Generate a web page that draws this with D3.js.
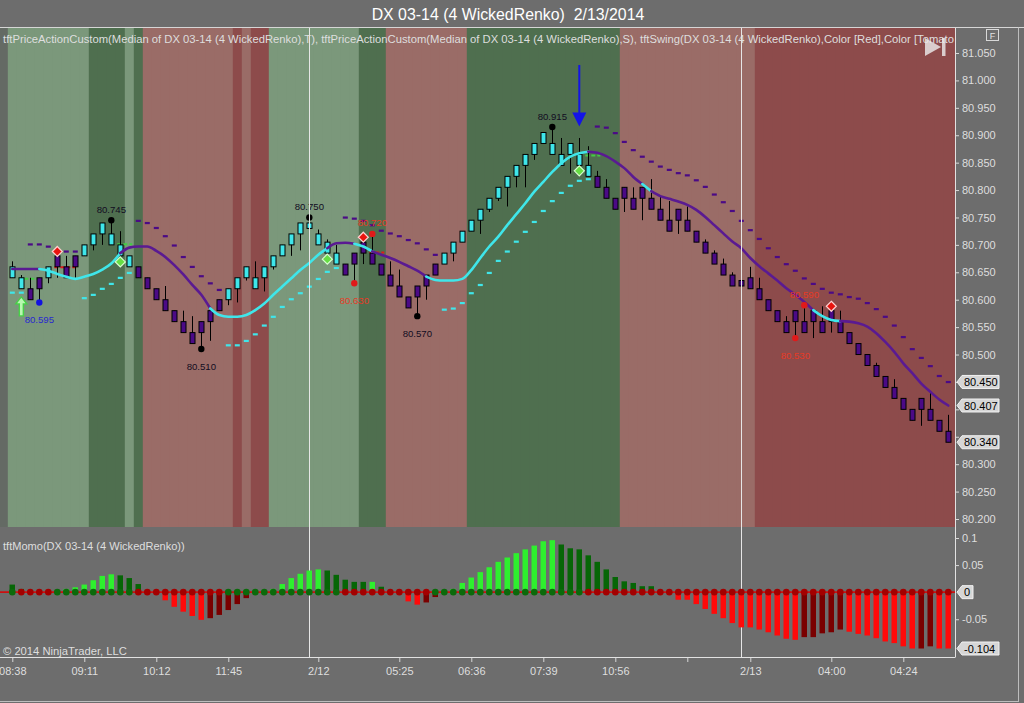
<!DOCTYPE html>
<html><head><meta charset="utf-8">
<script src="https://cdn.jsdelivr.net/npm/d3@7/dist/d3.min.js"></script>
<style>
html,body{margin:0;padding:0;background:#6d6d6d;}
svg{display:block;font-family:"Liberation Sans",Arial,sans-serif;}
</style></head><body>
<svg id="chart" width="1024" height="703"></svg>
<script>
// ---------------- DATA ----------------
const titleText = "DX 03-14 (4 WickedRenko)  2/13/2014";
const legendText = "tftPriceActionCustom(Median of DX 03-14 (4 WickedRenko),T), tftPriceActionCustom(Median of DX 03-14 (4 WickedRenko),S), tftSwing(DX 03-14 (4 WickedRenko),Color [Red],Color [Tomato";
const momoTitle = "tftMomo(DX 03-14 (4 WickedRenko))";
const copyright = "© 2014 NinjaTrader, LLC";

const bodyLow = [80.64,80.62,80.60,80.62,80.64,80.66,80.64,80.66,80.68,80.70,
 80.72,80.70,80.68,80.66,80.64,80.62,80.60,80.58,80.56,80.54,
 80.52,80.54,80.56,80.58,80.60,80.62,80.64,80.62,80.64,80.66,
 80.68,80.70,80.72,80.73,80.70,80.685,80.665,80.645,80.665,80.685,
 80.665,80.645,80.625,80.605,80.585,80.605,80.625,80.645,80.665,80.685,
 80.705,80.725,80.745,80.765,80.785,80.805,80.825,80.845,80.865,80.885,
 80.865,80.845,80.865,80.845,80.825,80.805,80.785,80.765,80.785,80.765,
 80.785,80.765,80.745,80.725,80.745,80.725,80.705,80.685,80.665,80.645,
 80.625,80.625,80.62,80.60,80.58,80.56,80.54,80.56,80.54,80.56,
 80.54,80.56,80.54,80.52,80.50,80.48,80.46,80.44,80.42,80.40,
 80.38,80.40,80.38,80.36,80.34];
const bodyHigh = [80.66,80.64,80.62,80.64,80.66,80.68,80.66,80.68,80.70,80.72,
 80.74,80.72,80.70,80.68,80.66,80.64,80.62,80.60,80.58,80.56,
 80.54,80.56,80.58,80.60,80.62,80.64,80.66,80.64,80.66,80.68,
 80.70,80.72,80.74,80.74,80.72,80.705,80.685,80.665,80.685,80.705,
 80.685,80.665,80.645,80.625,80.605,80.625,80.645,80.665,80.685,80.705,
 80.725,80.745,80.765,80.785,80.805,80.825,80.845,80.865,80.885,80.905,
 80.885,80.865,80.885,80.865,80.845,80.825,80.805,80.785,80.805,80.785,
 80.805,80.785,80.765,80.745,80.765,80.745,80.725,80.705,80.685,80.665,
 80.645,80.635,80.64,80.62,80.60,80.58,80.56,80.58,80.56,80.58,
 80.56,80.58,80.56,80.54,80.52,80.50,80.48,80.46,80.44,80.42,
 80.40,80.42,80.40,80.38,80.36];
const high = [80.67,80.645,80.64,80.64,80.66,80.68,80.68,80.68,80.70,80.72,
 80.74,80.745,80.725,80.68,80.66,80.64,80.62,80.625,80.58,80.58,
 80.57,80.56,80.58,80.60,80.62,80.64,80.66,80.67,80.66,80.68,
 80.70,80.72,80.74,80.75,80.728,80.71,80.70,80.665,80.685,80.705,
 80.72,80.665,80.67,80.655,80.605,80.625,80.645,80.665,80.685,80.705,
 80.725,80.745,80.765,80.785,80.805,80.825,80.845,80.865,80.885,80.905,
 80.915,80.895,80.885,80.895,80.88,80.835,80.82,80.785,80.805,80.805,
 80.805,80.82,80.79,80.78,80.765,80.77,80.725,80.71,80.69,80.675,
 80.65,80.645,80.66,80.64,80.60,80.58,80.57,80.58,80.59,80.58,
 80.588,80.58,80.58,80.54,80.52,80.50,80.485,80.46,80.455,80.42,
 80.40,80.42,80.43,80.38,80.39];
const low = [80.64,80.62,80.60,80.595,80.63,80.64,80.64,80.64,80.68,80.69,
 80.70,80.70,80.68,80.66,80.64,80.62,80.60,80.58,80.56,80.54,
 80.52,80.51,80.525,80.58,80.59,80.595,80.635,80.62,80.615,80.655,
 80.68,80.68,80.69,80.71,80.70,80.685,80.665,80.645,80.63,80.665,
 80.665,80.645,80.625,80.605,80.585,80.57,80.60,80.645,80.665,80.67,
 80.705,80.725,80.72,80.76,80.78,80.77,80.805,80.805,80.855,80.885,
 80.865,80.845,80.83,80.845,80.825,80.805,80.785,80.765,80.76,80.765,
 80.745,80.765,80.745,80.725,80.72,80.725,80.705,80.685,80.665,80.645,
 80.625,80.615,80.62,80.60,80.58,80.56,80.54,80.53,80.54,80.53,
 80.54,80.54,80.54,80.52,80.50,80.48,80.46,80.44,80.42,80.40,
 80.38,80.37,80.38,80.36,80.34];
// 1 = cyan painted bar, 0 = purple painted bar
const barTrend = [1,1,0,0,1,0,0,0,1,1, 1,1,1,1,0,0,0,0,0,0, 0,0,0,0,1,1,1,1,1,1,
 1,1,1,1,1,1,1,0,0,0, 0,0,0,0,0,0,0,0,1,1, 1,1,1,1,1,1,1,1,1,1, 1,1,1,1,1,0,0,0,0,0,
 0,0,0,0,0,0,0,0,0,0, 0,0,0,0,0,0,0,0,0,0, 0,0,0,0,0,0,0,0,0,0, 0,0,0,0,0];

// smoothed median line and its colour state (1 cyan, 0 purple)
const maValues = [80.656,80.656,80.656,80.656,80.653,80.647,80.642,80.638,80.642,80.647,
 80.655,80.666,80.685,80.695,80.697,80.697,80.689,80.678,80.663,80.646,
 80.627,80.609,80.584,80.572,80.569,80.569,80.572,80.581,80.593,80.609,
 80.624,80.639,80.654,80.667,80.682,80.694,80.703,80.704,80.702,80.697,
 80.688,80.682,80.676,80.669,80.661,80.653,80.642,80.636,80.635,80.635,
 80.638,80.654,80.676,80.697,80.715,80.736,80.756,80.776,80.797,80.815,
 80.833,80.849,80.861,80.867,80.870,80.868,80.862,80.852,80.840,80.824,
 80.811,80.798,80.789,80.784,80.779,80.773,80.764,80.751,80.736,80.721,
 80.706,80.694,80.676,80.661,80.648,80.635,80.621,80.609,80.596,80.581,
 80.570,80.563,80.561,80.560,80.557,80.551,80.539,80.523,80.505,80.484,
 80.466,80.447,80.432,80.418,80.407];
const maTrend = [0,0,0,0,1,1,1,1,1,1, 1,1,1,0,0,0,0,0,0,0, 0,0,0,1,1,1,1,1,1,1,
 1,1,1,1,1,1,0,0,0,1, 1,0,0,0,0,0,0,1,1,1, 1,1,1,1,1,1,1,1,1,1, 1,1,1,1,1,0,0,0,0,0,
 0,1,0,0,0,0,0,0,0,0, 0,0,0,0,0,0,0,0,0,0, 1,1,1,0,0,0,0,0,0,0, 0,0,0,0,0];

// trailing stop dashes (1 = cyan support, 0 = purple resistance)
const stopValues = [80.613,80.613,80.701,80.701,80.697,80.688,80.688,80.688,80.603,80.609,
 80.620,80.629,80.640,80.649,80.744,80.740,80.731,80.716,80.699,80.678,
 80.660,80.643,80.630,80.618,80.517,80.517,80.525,80.537,80.553,80.569,
 80.587,80.601,80.612,80.624,80.638,80.651,80.658,80.750,80.748,80.744,
 80.736,80.726,80.721,80.716,80.709,80.703,80.692,80.682,80.582,80.584,
 80.594,80.612,80.627,80.649,80.671,80.688,80.706,80.724,80.742,80.762,
 80.780,80.795,80.808,80.817,80.820,80.916,80.914,80.904,80.888,80.873,
 80.861,80.852,80.843,80.837,80.831,80.827,80.818,80.806,80.792,80.778,
 80.762,80.744,80.727,80.711,80.694,80.678,80.665,80.653,80.639,80.629,
 80.620,80.613,80.610,80.605,80.602,80.594,80.583,80.569,80.553,80.532,
 80.510,80.494,80.479,80.461,80.450];
const stopTrend = [1,1,0,0,0,0,0,0,1,1, 1,1,1,1,0,0,0,0,0,0, 0,0,0,0,1,1,1,1,1,1,
 1,1,1,1,1,1,1,0,0,0, 0,0,0,0,0,0,0,0,1,1, 1,1,1,1,1,1,1,1,1,1, 1,1,1,1,1,0,0,0,0,0,
 0,0,0,0,0,0,0,0,0,0, 0,0,0,0,0,0,0,0,0,0, 0,0,0,0,0,0,0,0,0,0, 0,0,0,0,0];

// background state per bar
const bandState = ["lg","lg","lg","lg","lg","lg","lg","lg","lg","dg",
 "dg","dg","dg","lg","dg","lr","lr","lr","lr","lr",
 "lr","lr","lr","lr","lr","dr","lr","dr","dr","lg",
 "lg","lg","lg","lg","lg","lg","lg","lg","lg","dg",
 "dg","dg","lr","lr","lr","lr","lr","lr","lr","lr",
 "lr","dg","dg","dg","dg","dg","dg","dg","dg","dg",
 "dg","dg","dg","dg","dg","dg","dg","dg","lr","lr",
 "lr","lr","lr","lr","lr","lr","lr","lr","lr","lr",
 "lr","lr","lr","dr","dr","dr","dr","dr","dr","dr",
 "dr","dr","dr","dr","dr","dr","dr","dr","dr","dr",
 "dr","dr","dr","dr","dr"];

// swing points
const swingIdx   = [3, 11, 21, 33, 38, 40, 45, 60, 87, 88];
const swingPrice = [80.595, 80.745, 80.510, 80.750, 80.630, 80.720, 80.570, 80.915, 80.530, 80.590];
const swingSide  = ["low","high","low","high","low","high","low","high","low","high"];
const swingKind  = ["blue","black","black","black","red","red","black","black","red","red"];

// diamonds
const redDiamondIdx = [5, 39, 91];
const redDiamondPrice = [80.688, 80.714, 80.588];
const greenDiamondIdx = [12, 35, 63];
const greenDiamondPrice = [80.669, 80.674, 80.835];

// arrows
const upArrowIdx = 1, upArrowPrice = 80.605;
const downArrowIdx = 63, downArrowPrice = 80.916;

// short level marks
const levelStart = [1, 5, 12, 40, 64];
const levelEnd   = [3, 7, 13, 41, 65];
const levelPrice = [80.638, 80.659, 80.701, 80.686, 80.863];
const levelKind  = ["g","r","g","r","g"];

// momentum
const momoValues = [0.014,0.006,0,0,0,0,0.006,0.009,0.014,0.022,
 0.030,0.033,0.031,0.026,0.015,0,0,-0.015,-0.027,-0.036,
 -0.044,-0.051,-0.048,-0.042,-0.033,-0.022,-0.011,0,0,0.006,
 0.015,0.026,0.034,0.040,0.042,0.040,0.032,0.023,0.019,0.019,
 0.019,0.010,0,0,-0.017,-0.023,-0.019,-0.009,0,0.006,
 0.017,0.027,0.037,0.046,0.056,0.064,0.072,0.079,0.086,0.094,
 0.096,0.088,0.081,0.079,0.068,0.056,0.042,0.028,0.020,0.017,
 0.011,0.011,0,0,-0.014,-0.014,-0.022,-0.031,-0.040,-0.048,
 -0.057,-0.065,-0.065,-0.069,-0.074,-0.080,-0.086,-0.088,-0.083,-0.083,
 -0.076,-0.074,-0.069,-0.073,-0.077,-0.080,-0.085,-0.091,-0.094,-0.100,
 -0.104,-0.104,-0.100,-0.104,-0.104];
const momoBright = [0,0,0,0,0,0,1,1,1,1, 1,1,0,0,0,0,0,1,1,1, 1,1,0,0,0,0,0,0,0,1,
 1,1,1,1,1,0,0,0,0,0, 1,0,0,0,1,1,0,0,0,1, 1,1,1,1,1,1,1,1,1,1, 1,0,0,0,0,0,0,0,0,0,
 0,0,0,0,1,1,1,1,1,1, 1,1,1,1,1,1,1,1,0,0, 0,0,0,1,1,1,1,1,1,1, 1,0,0,1,1];
const dotTrend = [1,0,0,0,0,1,1,1,1,1, 1,1,1,1,0,0,0,0,0,0, 0,0,0,0,1,1,1,1,1,1,
 1,1,1,1,1,1,1,0,0,0, 0,0,0,0,0,0,0,1,1,1, 1,1,1,1,1,1,1,1,1,1, 1,1,1,1,0,0,0,0,0,0,
 0,0,0,0,0,0,0,0,0,0, 0,0,0,0,0,0,0,0,0,0, 0,0,0,0,0,0,0,0,0,0, 0,0,0,0,0];

// axes (80.400 and 80.350 sit under the value tags, so they are not labelled)
const priceTicks = d3.range(0, 18).map(k => +(80.2 + 0.05 * k).toFixed(3));
const hiddenPriceLabels = [80.4, 80.35];
const momoTicks = [0.1, 0.05, -0.05];
const timeTickIdx = [0, 8, 16, 24, 34, 43, 51, 59, 67, 75, 82, 91, 99];
const timeTickLabel = ["08:38","09:11","10:12","11:45","2/12","05:25","06:36","07:39","10:56","","2/13","04:00","04:24"];
const sessionBreaks = [33, 81];
const lastPrice = 80.340, lastMa = 80.407, lastStop = 80.450, lastMomo = -0.104;

// ---------------- DRAW ----------------
const N = bodyLow.length;
const svg = d3.select("#chart");
const plotR = 955, mainTop = 28, mainBot = 527, momoBot = 657;
const x = d3.scaleBand().domain(d3.range(N)).range([7.8, 952.8]);
const cx = i => x(i) + x.bandwidth() / 2;
const xLin = d3.scaleLinear().domain([0, N - 1]).range([cx(0), cx(N - 1)]);
const y = d3.scaleLinear().domain([80.2, 81.05]).range([519, 53]);
const ym = d3.scaleLinear().domain([-0.104, 0.1]).range([648.5, 538]);

const C = {
  bg: "#6d6d6d", lg: "#7b987b", dg: "#4f6f4f", lr: "#9a6c67", dr: "#8d4b4b",
  cyan: "#3fe6ea", purple: "#4b0a86", maPurple: "#5a1a92", text: "#dedede",
  gBright: "#2ef02e", gDark: "#066606", rBright: "#ff0a0a", rDark: "#7a0000",
  dotG: "#0b6a0b", dotR: "#a30000"
};

svg.append("rect").attr("width", 1024).attr("height", 703).attr("fill", C.bg);

const defs = svg.append("defs");
defs.append("clipPath").attr("id", "mainClip").append("rect")
  .attr("x", 0).attr("y", mainTop).attr("width", plotR).attr("height", mainBot - mainTop);
defs.append("clipPath").attr("id", "momoClip").append("rect")
  .attr("x", 0).attr("y", mainBot).attr("width", plotR).attr("height", momoBot - mainBot);

// title
const title = svg.append("text").attr("x", 508).attr("y", 19.5).attr("text-anchor", "middle")
  .attr("font-size", 16).attr("fill", "#ffffff").style("white-space", "pre").text(titleText);
(function () { const w = title.node().getComputedTextLength(); title.attr("font-size", 16 * 273 / w); })();

// frame lines
svg.append("line").attr("x1", 0).attr("x2", 1024).attr("y1", 27.5).attr("y2", 27.5).attr("stroke", "#d6d6d6");
svg.append("line").attr("x1", 1018.5).attr("x2", 1018.5).attr("y1", 27.5).attr("y2", 701.5).attr("stroke", "#bdbdbd");
svg.append("line").attr("x1", 0).attr("x2", 1019).attr("y1", 701.5).attr("y2", 701.5).attr("stroke", "#bdbdbd");
const fBox = svg.append("g");
fBox.append("rect").attr("x", 986.5).attr("y", 29.5).attr("width", 12).attr("height", 11).attr("fill", "none").attr("stroke", "#d8d8d8");
fBox.append("text").attr("x", 992.5).attr("y", 38.5).attr("text-anchor", "middle").attr("font-size", 9).attr("fill", "#e0e0e0").text("F");

// ---------- main panel ----------
const main = svg.append("g").attr("clip-path", "url(#mainClip)");
main.append("rect").attr("x", 0).attr("y", mainTop).attr("width", plotR).attr("height", mainBot - mainTop).attr("fill", "#646a64");
main.selectAll("rect.band").data(d3.range(N)).join("rect").attr("class", "band")
  .attr("x", i => x(i)).attr("y", mainTop)
  .attr("width", i => i === N - 1 ? plotR - x(i) : x.bandwidth() + 0.4)
  .attr("height", mainBot - mainTop).attr("fill", i => C[bandState[i]]);

// session separators (both panels)
svg.selectAll("line.sess").data(sessionBreaks).join("line").attr("class", "sess")
  .attr("x1", i => Math.round(cx(i)) + 0.5).attr("x2", i => Math.round(cx(i)) + 0.5)
  .attr("y1", mainTop).attr("y2", momoBot).attr("stroke", "#e6e6e6").attr("stroke-width", 1);

// legend text (runs under the axis, like the reference)
const leg = main.append("text").attr("x", 3).attr("y", 43).attr("font-size", 11).attr("fill", C.text).text(legendText);
(function () { const w = leg.node().getComputedTextLength(); leg.attr("font-size", 11 * 951 / w); })();

// level marks
main.selectAll("line.lvl").data(levelStart.map((s, k) => k)).join("line").attr("class", "lvl")
  .attr("x1", k => cx(levelStart[k]) - 3).attr("x2", k => cx(levelEnd[k]) + 3)
  .attr("y1", k => y(levelPrice[k])).attr("y2", k => y(levelPrice[k]))
  .attr("stroke", k => levelKind[k] === "g" ? "#44cc44" : "#e01a1a").attr("stroke-width", 2)
  .attr("stroke-dasharray", "4,2");

// stop dashes
main.selectAll("rect.stop").data(d3.range(N)).join("rect").attr("class", "stop")
  .attr("x", i => cx(i) - 2.5).attr("y", i => y(stopValues[i]) - 1)
  .attr("width", 5).attr("height", 2.2)
  .attr("fill", i => stopTrend[i] ? C.cyan : C.purple);

// candles
const cg = main.append("g");
cg.selectAll("line.wick").data(d3.range(N)).join("line").attr("class", "wick")
  .attr("x1", i => Math.round(cx(i)) + 0.5).attr("x2", i => Math.round(cx(i)) + 0.5)
  .attr("y1", i => y(high[i])).attr("y2", i => y(low[i]))
  .attr("stroke", "#000").attr("stroke-width", 1);
cg.selectAll("rect.body").data(d3.range(N)).join("rect").attr("class", "body")
  .attr("x", i => Math.round(cx(i)) - 2).attr("y", i => y(bodyHigh[i]))
  .attr("width", 5).attr("height", i => y(bodyLow[i]) - y(bodyHigh[i]))
  .attr("fill", i => barTrend[i] ? C.cyan : C.purple)
  .attr("stroke", "#000").attr("stroke-width", 1);

// MA line in coloured runs
(function () {
  const line = d3.line().x(i => cx(i)).y(i => y(maValues[i])).curve(d3.curveMonotoneX);
  let runs = [], cur = null;
  for (let i = 1; i < N; i++) {
    const c = maTrend[i];
    if (!cur || cur.c !== c) { cur = { c, pts: [i - 1] }; runs.push(cur); }
    cur.pts.push(i);
  }
  main.selectAll("path.ma").data(runs).join("path").attr("class", "ma")
    .attr("d", r => line(r.pts)).attr("fill", "none")
    .attr("stroke", r => r.c ? C.cyan : C.maPurple).attr("stroke-width", 2.6)
    .attr("stroke-linecap", "round");
})();

// diamonds
function diamond(g, px, py, fill, stroke) {
  const s = 5;
  g.append("path").attr("d", `M${px},${py - s} L${px + s},${py} L${px},${py + s} L${px - s},${py} Z`)
    .attr("fill", fill).attr("stroke", stroke).attr("stroke-width", 1.2);
}
redDiamondIdx.forEach((idx, k) => diamond(main, cx(idx), y(redDiamondPrice[k]), "#e8140f", "#ffd0d0"));
greenDiamondIdx.forEach((idx, k) => diamond(main, cx(idx), y(greenDiamondPrice[k]), "#66dd44", "#d8ffd0"));

// swing dots and labels
const swingDot = { blue: "#1212e0", black: "#000000", red: "#e01a1a" };
const swingTxt = { blue: "#2828d0", black: "#120c22", red: "#e63a26" };
swingIdx.forEach((idx, k) => {
  const px = cx(idx), py = y(swingPrice[k]);
  main.append("circle").attr("cx", px).attr("cy", py).attr("r", 3.2).attr("fill", swingDot[swingKind[k]]);
  main.append("text").attr("x", px).attr("y", swingSide[k] === "high" ? py - 7.5 : py + 20.5)
    .attr("text-anchor", "middle").attr("font-size", 9.6).attr("fill", swingTxt[swingKind[k]])
    .text(swingPrice[k].toFixed(3));
});

// arrows
(function () {
  const px = cx(upArrowIdx), t = y(upArrowPrice);
  main.append("path").attr("d", `M${px},${t} L${px + 5.5},${t + 7} L${px + 2},${t + 7} L${px + 2},${t + 19} L${px - 2},${t + 19} L${px - 2},${t + 7} L${px - 5.5},${t + 7} Z`)
    .attr("fill", "#b8f8b0").attr("stroke", "#44d244").attr("stroke-width", 1.3);
  const dx = cx(downArrowIdx), b = y(downArrowPrice);
  main.append("line").attr("x1", dx).attr("x2", dx).attr("y1", 65).attr("y2", b - 12).attr("stroke", "#1414e6").attr("stroke-width", 2);
  main.append("path").attr("d", `M${dx - 7},${b - 14} L${dx + 7},${b - 14} L${dx},${b} Z`).attr("fill", "#1414e6");
})();

// play icon (translucent)
svg.append("path").attr("d", "M925,38 L925,56 L941,47 Z").attr("fill", "#eeeeee").attr("fill-opacity", 0.8);
svg.append("rect").attr("x", 942).attr("y", 38).attr("width", 3.5).attr("height", 18).attr("fill", "#eeeeee").attr("fill-opacity", 0.8);

// right price axis
const axR = svg.append("g").attr("transform", `translate(${plotR},0)`)
  .call(d3.axisRight(y).tickValues(priceTicks)
    .tickFormat(d => hiddenPriceLabels.some(h => Math.abs(h - d) < 1e-6) ? "" : d3.format(".3f")(d))
    .tickSize(4).tickPadding(3));
axR.select(".domain").remove();
axR.selectAll("line").attr("stroke", "#d8d8d8");
axR.selectAll("text").attr("fill", C.text).attr("font-size", 11).attr("font-family", "Liberation Sans, Arial, sans-serif");
svg.append("line").attr("x1", plotR + 0.5).attr("x2", plotR + 0.5).attr("y1", mainTop).attr("y2", momoBot).attr("stroke", "#e2e2e2");

function tagBox(yv, label, w) {
  const x0 = 957, h = 13;
  svg.append("path").attr("d", `M${x0},${yv} L${x0 + 5},${yv - h / 2} H${x0 + 5 + w} V${yv + h / 2} H${x0 + 5} Z`)
    .attr("fill", "#d6d6d6").attr("stroke", "#f2f2f2").attr("stroke-width", 1);
  svg.append("text").attr("x", x0 + 7).attr("y", yv + 4).attr("font-size", 11).attr("fill", "#000").text(label);
}
tagBox(y(lastStop), d3.format(".3f")(lastStop), 37);
tagBox(y(lastMa), d3.format(".3f")(lastMa), 37);
tagBox(y(lastPrice), d3.format(".3f")(lastPrice), 37);

// ---------- momentum panel ----------
const mom = svg.append("g").attr("clip-path", "url(#momoClip)");
mom.append("text").attr("x", 3).attr("y", 550).attr("font-size", 11).attr("fill", C.text).text(momoTitle)
  .each(function () { const w = this.getComputedTextLength(); d3.select(this).attr("font-size", 11 * 182 / w); });
mom.append("text").attr("x", 3).attr("y", 654.5).attr("font-size", 11).attr("fill", C.text).text(copyright)
  .each(function () { const w = this.getComputedTextLength(); d3.select(this).attr("font-size", 11 * 124 / w); });

mom.selectAll("rect.mb").data(d3.range(N).filter(i => momoValues[i] !== 0)).join("rect").attr("class", "mb")
  .attr("x", i => Math.round(cx(i)) - 2.5).attr("width", 5.5)
  .attr("y", i => Math.min(ym(0), ym(momoValues[i])))
  .attr("height", i => Math.abs(ym(momoValues[i]) - ym(0)))
  .attr("fill", i => momoValues[i] > 0 ? (momoBright[i] ? C.gBright : C.gDark) : (momoBright[i] ? C.rBright : C.rDark));
mom.append("line").attr("x1", 0).attr("x2", plotR).attr("y1", ym(0)).attr("y2", ym(0))
  .attr("stroke", "#cc1010").attr("stroke-width", 1.6);
mom.selectAll("circle.dot").data(d3.range(N)).join("circle").attr("class", "dot")
  .attr("cx", i => cx(i)).attr("cy", ym(0)).attr("r", 3.3)
  .attr("fill", i => dotTrend[i] ? C.dotG : C.dotR);

const axM = svg.append("g").attr("transform", `translate(${plotR},0)`)
  .call(d3.axisRight(ym).tickValues(momoTicks).tickFormat(d => String(d)).tickSize(4).tickPadding(3));
axM.select(".domain").remove();
axM.selectAll("line").attr("stroke", "#d8d8d8");
axM.selectAll("text").attr("fill", C.text).attr("font-size", 11).attr("font-family", "Liberation Sans, Arial, sans-serif");
tagBox(ym(0), "0", 11);
tagBox(ym(lastMomo), String(lastMomo), 37);

// ---------- time axis ----------
const axB = svg.append("g").attr("transform", `translate(0,${momoBot})`)
  .call(d3.axisBottom(xLin).tickValues(timeTickIdx).tickFormat((d, k) => timeTickLabel[k]).tickSize(5).tickPadding(5));
axB.select(".domain").remove();
axB.selectAll("line").attr("stroke", "#d8d8d8");
axB.selectAll("text").attr("fill", C.text).attr("font-size", 11).attr("font-family", "Liberation Sans, Arial, sans-serif");
svg.append("line").attr("x1", 0).attr("x2", plotR + 0.5).attr("y1", momoBot + 0.5).attr("y2", momoBot + 0.5).attr("stroke", "#e2e2e2");
</script></body></html>
